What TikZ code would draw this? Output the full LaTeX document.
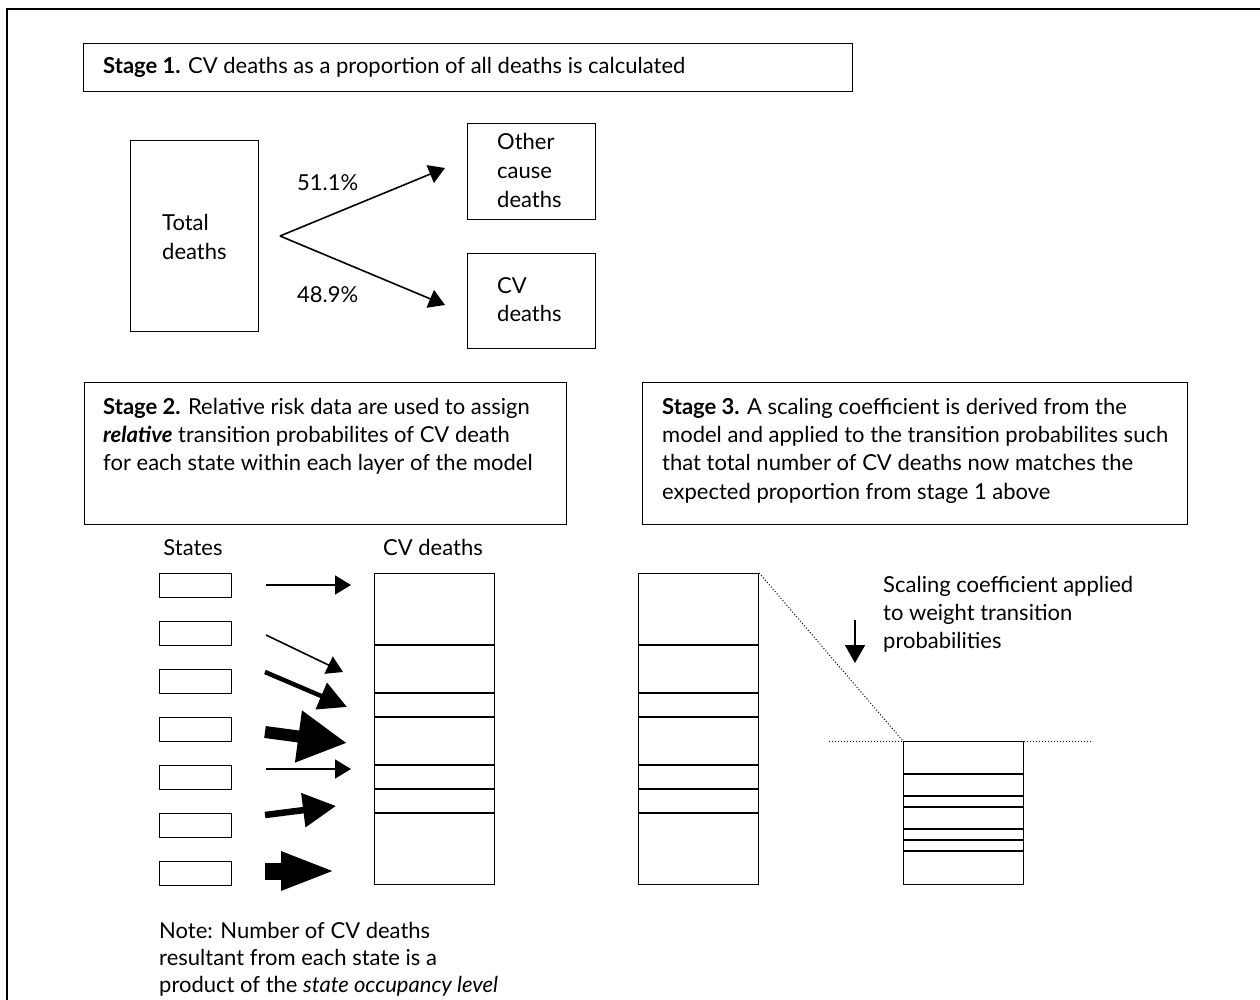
\documentclass[tikz,border=0pt]{standalone}
\usepackage{fontspec}
\setmainfont{Lato}
\usetikzlibrary{arrows.meta}
\begin{document}
\begin{tikzpicture}[x=1pt,y=-1pt,
  frame/.style={line width=2pt},
  box/.style={draw, line width=1.2pt, inner sep=0pt, anchor=north west},
  txt/.style={anchor=base west, inner sep=0pt, font=\fontsize{22}{28}\selectfont},
  ctxt/.style={anchor=base, inner sep=0pt, font=\fontsize{22}{28}\selectfont},
  divider/.style={line width=1.4pt},
  thinarrow/.style={line width=1.6pt, -{Triangle[length=16pt,width=19pt]}},
  dots/.style={dotted, line width=1pt}
]
\useasboundingbox (0,0) rectangle (1260,1000);
% outer frame
\draw[frame] (7,1002) -- (7,9) -- (1262,9);

% ---------- Stage 1 ----------
\node[box, minimum width=769pt, minimum height=48pt] (s1box) at (83,43) {};
\node[txt] (s1t) at (103,74) {\textbf{Stage 1.} CV deaths as a proportion of all deaths is calculated};

\node[box, minimum width=128pt, minimum height=191pt] (total) at (130,140) {};
\node[txt] (total1) at (162,231) {Total};
\node[txt] (total2) at (162,259) {deaths};

\node[box, minimum width=128pt, minimum height=96pt] (other) at (467,123) {};
\node[txt] (other1) at (497,150) {Other};
\node[txt] (other2) at (497,179) {cause};
\node[txt] (other3) at (497,208) {deaths};

\node[box, minimum width=128pt, minimum height=95pt] (cv) at (467,253) {};
\node[txt] (cv1) at (497,293) {CV};
\node[txt] (cv2) at (497,321) {deaths};

\coordinate (fork) at (280,236);
\coordinate (tipO) at (445,168);
\coordinate (tipC) at (445,305);
\draw[thinarrow] (fork) -- (tipO);
\draw[thinarrow] (fork) -- (tipC);
\node[txt] (p1) at (297,191) {51.1\%};
\node[txt] (p2) at (297,302) {48.9\%};

% ---------- Stage 2 ----------
\node[box, minimum width=482pt, minimum height=142pt] (s2box) at (84,382) {};
\node[txt] (s2a) at (103,414) {\textbf{Stage 2.} Relative risk data are used to assign};
\node[txt] (s2b) at (103,442) {\textbf{\textit{relative}} transition probabilites of CV death};
\node[txt] (s2c) at (103,470) {for each state within each layer of the model};

\node[ctxt] (states) at (193,555) {States};
\node[ctxt] (cvd) at (433,555) {CV deaths};

\foreach \i/\y in {1/573,2/621,3/669,4/717,5/765,6/813,7/861}{
  \node[box, minimum width=72pt, minimum height=24pt] (st\i) at (159,\y) {};
}

\node[box, minimum width=120pt, minimum height=311pt] (col) at (374,573) {};
\foreach \y in {645,693,717,765,789,813}{
  \draw[divider] (374,\y) -- (494,\y);
}

% weighted arrows
\coordinate (a1s) at (266,585); \coordinate (a1e) at (351,585);
\coordinate (a2s) at (266,635); \coordinate (a2e) at (343,672);
\coordinate (a3s) at (265,672); \coordinate (a3e) at (347,707);
\coordinate (a4s) at (265,732); \coordinate (a4e) at (347,743);
\coordinate (a5s) at (266,769); \coordinate (a5e) at (351,769);
\coordinate (a6s) at (265,815); \coordinate (a6e) at (336,806);
\coordinate (a7s) at (265,871); \coordinate (a7e) at (336,871);
\draw[thinarrow] (a1s) -- (a1e);
\draw[thinarrow] (a2s) -- (a2e);
\draw[line width=4.5pt, -{Triangle[length=28pt,width=28pt]}] (a3s) -- (a3e);
\draw[line width=12pt, -{Triangle[length=49pt,width=49pt]}] (a4s) -- (a4e);
\draw[thinarrow] (a5s) -- (a5e);
\draw[line width=6.5pt, -{Triangle[length=33pt,width=33pt]}] (a6s) -- (a6e);
\draw[line width=17pt, -{Triangle[length=55pt,width=35pt]}] (a7s) -- (a7e);

% Note
\node[txt] (n1) at (159,938) {Note: Number of CV deaths};
\node[txt] (n2) at (159,965) {resultant from each state is a};
\node[txt] (n3) at (159,992) {product of the \textit{state occupancy level}};

% ---------- Stage 3 ----------
\node[box, minimum width=545pt, minimum height=142pt] (s3box) at (642,382) {};
\node[txt] (s3a) at (662,414) {\textbf{Stage 3.} A scaling coefficient is derived from the};
\node[txt] (s3b) at (662,442) {model and applied to the transition probabilites such};
\node[txt] (s3c) at (662,470) {that total number of CV deaths now matches the};
\node[txt] (s3d) at (662,499) {expected proportion from stage 1 above};

\node[box, minimum width=120pt, minimum height=311pt] (colL) at (638,573) {};
\foreach \y in {645,693,717,765,789,813}{
  \draw[divider] (638,\y) -- (758,\y);
}

\node[box, minimum width=120pt, minimum height=143pt] (colS) at (903,741) {};
\foreach \y in {774,796,807,829,840,851}{
  \draw[divider] (903,\y) -- (1023,\y);
}

\draw[dots] (colL.north east) -- (colS.north west);
\coordinate (hl) at (829,741);
\coordinate (hr) at (1093,741);
\draw[dots] (hl) -- (hr);

\coordinate (dA) at (855,620);
\coordinate (dB) at (855,663);
\draw[line width=1.6pt, -{Triangle[length=18pt,width=20pt]}] (dA) -- (dB);

\node[txt] (sc1) at (883,592) {Scaling coefficient applied};
\node[txt] (sc2) at (883,620) {to weight transition};
\node[txt] (sc3) at (883,648) {probabilities};
\end{tikzpicture}
\end{document}
